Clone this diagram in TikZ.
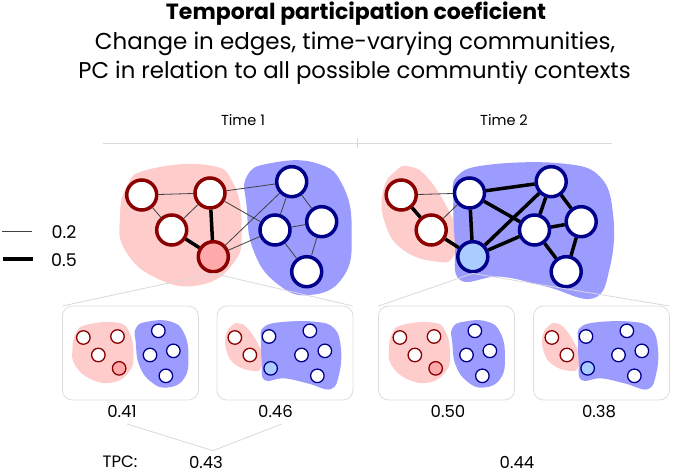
\documentclass[tikz,border=0pt]{standalone}
\usepackage{fontspec}
\setmainfont{Poppins}
\usetikzlibrary{positioning}
\definecolor{commRed}{HTML}{FFCCCC}
\definecolor{commBlue}{HTML}{9C9CFF}
\definecolor{ringRed}{HTML}{8B0000}
\definecolor{ringBlue}{HTML}{00008B}
\definecolor{hubRed}{HTML}{FFAAAA}
\definecolor{hubBlue}{HTML}{AACCFF}
\definecolor{frameGray}{HTML}{DDDDDD}

% node layout (same for both times), community given per node
\newcommand{\layoutOne}{A/141.7/195/redc, B/210/193/redc, C/171.7/230/redc, D/213.3/256.7/redhub,
  E/291.7/181.7/bluec, F/275/230/bluec, G/321.7/221.7/bluec, H/306.7/271.7/bluec}
\newcommand{\layoutTwo}{A/141.7/195/redc, B/210/193/bluec, C/171.7/230/redc, D/213.3/256.7/bluehub,
  E/291.7/181.7/bluec, F/275/230/bluec, G/321.7/221.7/bluec, H/306.7/271.7/bluec}

% community outlines
\newcommand{\pinkOne}{plot[smooth cycle, tension=0.8] coordinates {(120,216.7) (126.7,186.7) (146.7,170) (206.7,165)
  (233.3,183.3) (241.7,230) (233.3,263.3) (200,285) (156.7,278.3) (125,250)}}
\newcommand{\blueOne}{plot[smooth cycle, tension=0.8] coordinates {(246.7,176.7) (270,163.3) (316.7,163.3) (343.3,186.7)
  (351.7,233.3) (343.3,276.7) (310,295) (276.7,283.3) (253.3,250) (246.7,206.7)}}
\newcommand{\pinkTwo}{plot[smooth cycle, tension=0.8] coordinates {(150.5,166.7) (167.2,176.7) (187.2,206.7) (197.2,233.3)
  (193.8,256.7) (177.2,261.7) (143.8,250) (125.5,223.3) (123.8,190) (137.2,170)}}
\newcommand{\blueTwo}{plot[smooth cycle, tension=0.7] coordinates {(197.2,176.7) (227.2,165) (300.5,163.3) (340.5,176.7)
  (353.8,216.7) (350.5,266.7) (333.8,298.3) (287.2,286.7) (240.5,276.7) (200.5,280) (195.5,243.3) (193.8,200)}}

\tikzset{
  netnode/.style={circle, draw, line width=3.5bp, minimum size=30bp, inner sep=0pt, fill=white},
  minnode/.style={circle, draw, line width=1.3bp, minimum size=13.5bp, inner sep=0pt, fill=white},
  redc/.style={draw=ringRed},
  redhub/.style={draw=ringRed, fill=hubRed},
  bluec/.style={draw=ringBlue},
  bluehub/.style={draw=ringBlue, fill=hubBlue},
  weak/.style={line width=0.8bp, black!75},
  strong/.style={line width=3.5bp, black},
  guide/.style={line width=0.8bp, black!15},
  ctxbox/.style={draw=frameGray, line width=0.8bp, rounded corners=10bp, minimum width=136bp,
    minimum height=94bp, inner sep=0pt, outer sep=0pt},
  valtext/.style={font=\fontsize{16.5bp}{20bp}\selectfont, inner sep=1bp}
}

\begin{document}
\begin{tikzpicture}[x=1bp, y=-1bp]
  \useasboundingbox (0,0) rectangle (673,473);

  % heading
  \node[anchor=base, font=\fontsize{22bp}{26bp}\selectfont\bfseries] (title) at (356,19.5) {Temporal participation coeficient};
  \node[anchor=base, font=\fontsize{23bp}{26bp}\selectfont] (sub1) at (355,49.5) {Change in edges, time-varying communities,};
  \node[anchor=base, font=\fontsize{22.8bp}{26bp}\selectfont] (sub2) at (354.5,79) {PC in relation to all possible communtiy contexts};

  \node[font=\fontsize{14.5bp}{18bp}\selectfont] (time1) at (243,120) {Time 1};
  \node[font=\fontsize{14.5bp}{18bp}\selectfont] (time2) at (504,120) {Time 2};
  \draw[guide] (103,143) -- (612,143);
  \draw[guide] (357,138) -- (357,148);

  % legend
  \node[font=\fontsize{17.5bp}{20bp}\selectfont] (leg1) at (64,232) {0.2};
  \node[font=\fontsize{17.5bp}{20bp}\selectfont] (leg2) at (64,260) {0.5};
  \draw[weak] (2,231) -- (32,231);
  \draw[strong] (3,259) -- (33,259);

  % context boxes
  \node[ctxbox] (box1) at (130.4,353) {};
  \node[ctxbox] (box2) at (284.9,353) {};
  \node[ctxbox] (box3) at (446.5,353) {};
  \node[ctxbox] (box4) at (601.5,353) {};

  % time 1 network
  \fill[commRed] \pinkOne;
  \fill[commBlue] \blueOne;
  \foreach \n/\x/\y/\s in \layoutOne
    \node[netnode, \s] (t1\n) at (\x,\y) {};
  \foreach \u/\v in {A/B, A/C, C/B, B/E, B/F, D/E, D/F, E/F, E/G, F/G, F/H, G/H}
    \draw[weak] (t1\u) -- (t1\v);
  \foreach \u/\v in {B/D, C/D}
    \draw[strong] (t1\u) -- (t1\v);

  % time 2 network
  \begin{scope}[shift={(259.5,0)}]
    \fill[commRed] \pinkTwo;
    \fill[commBlue] \blueTwo;
    \foreach \n/\x/\y/\s in \layoutTwo
      \node[netnode, \s] (t2\n) at (\x,\y) {};
    \foreach \u/\v in {A/B, C/B}
      \draw[weak] (t2\u) -- (t2\v);
    \foreach \u/\v in {A/C, C/D, B/E, B/D, B/F, D/E, D/F, E/F, E/G, F/G, F/H, G/H}
      \draw[strong] (t2\u) -- (t2\v);
  \end{scope}

  % small copies: each time against both community contexts
  \begin{scope}[shift={(12.5,240)}, scale=0.5]
    \fill[commRed] \pinkOne;
    \fill[commBlue] \blueOne;
    \foreach \n/\x/\y/\s in \layoutOne
      \node[minnode, \s] (s1\n) at (\x,\y) {};
  \end{scope}
  \begin{scope}[shift={(164,240)}, scale=0.5]
    \fill[commRed] \pinkTwo;
    \fill[commBlue] \blueTwo;
    \foreach \n/\x/\y/\s in \layoutTwo
      \node[minnode, \s] (s2\n) at (\x,\y) {};
  \end{scope}
  \begin{scope}[shift={(329,240)}, scale=0.5]
    \fill[commRed] \pinkOne;
    \fill[commBlue] \blueOne;
    \foreach \n/\x/\y/\s in \layoutOne
      \node[minnode, \s] (s3\n) at (\x,\y) {};
  \end{scope}
  \begin{scope}[shift={(481,240)}, scale=0.5]
    \fill[commRed] \pinkTwo;
    \fill[commBlue] \blueTwo;
    \foreach \n/\x/\y/\s in \layoutTwo
      \node[minnode, \s] (s4\n) at (\x,\y) {};
  \end{scope}

  % funnels from the node of interest
  \draw[guide] (box1.north west) -- (t1D.south) -- (box2.north east);
  \draw[guide] (box3.north west) -- (t2D.south) -- (box4.north east);

  % values
  \node[valtext] (v41) at (122,411.7) {0.41};
  \node[valtext] (v46) at (275.5,411.7) {0.46};
  \node[valtext] (v50) at (448,411.7) {0.50};
  \node[valtext] (v38) at (599,411.7) {0.38};
  \node[valtext] (tpc) at (120,462) {TPC:};
  \node[valtext] (v43) at (206,462) {0.43};
  \node[valtext] (v44) at (517,462) {0.44};
  \draw[guide] ([xshift=5bp, yshift=-5bp]v41.south) -- ([xshift=7bp, yshift=4bp]v43.north)
    -- ([xshift=6bp, yshift=-5bp]v46.south);
\end{tikzpicture}
\end{document}
